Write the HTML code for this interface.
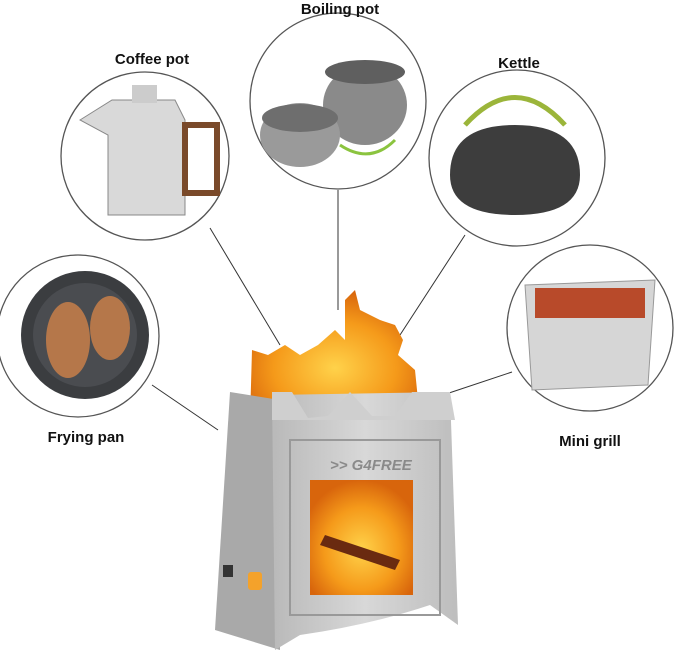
<!DOCTYPE html>
<html><head><style>
html,body{margin:0;padding:0;background:#fff;width:679px;height:668px;overflow:hidden}
svg{display:block}
text{font-family:"Liberation Sans",sans-serif;font-weight:bold;font-size:15px;fill:#111}
</style></head><body>
<svg width="679" height="668" viewBox="0 0 679 668">
<defs>
<radialGradient id="fire" cx="50%" cy="60%" r="60%"><stop offset="0" stop-color="#ffd24a"/><stop offset="0.6" stop-color="#f59a1a"/><stop offset="1" stop-color="#d8650c"/></radialGradient>
<linearGradient id="steel" x1="0" x2="1"><stop offset="0" stop-color="#b9b9b9"/><stop offset="0.5" stop-color="#d8d8d8"/><stop offset="1" stop-color="#bdbdbd"/></linearGradient>
</defs>
<g stroke="#333" stroke-width="1" fill="none">
<line x1="210" y1="228" x2="280" y2="345"/>
<line x1="338" y1="190" x2="338" y2="310"/>
<line x1="465" y1="235" x2="400" y2="335"/>
<line x1="152" y1="385" x2="218" y2="430"/>
<line x1="512" y1="372" x2="428" y2="400"/>
</g>
<g stroke="#555" stroke-width="1.3" fill="#fff">
<circle cx="145" cy="156" r="84"/>
<circle cx="338" cy="101" r="88"/>
<circle cx="517" cy="158" r="88"/>
<circle cx="78" cy="336" r="81"/>
<circle cx="590" cy="328" r="83"/>
</g>
<path d="M80 120 L112 100 L175 100 L185 120 L185 215 L108 215 L108 135 Z" fill="#d9d9d9" stroke="#888"/>
<rect x="185" y="125" width="32" height="68" fill="none" stroke="#7a4a2a" stroke-width="6"/>
<rect x="132" y="85" width="25" height="18" fill="#ccc"/>
<ellipse cx="365" cy="105" rx="42" ry="40" fill="#8a8a8a"/>
<ellipse cx="365" cy="72" rx="40" ry="12" fill="#5f5f5f"/>
<ellipse cx="300" cy="135" rx="40" ry="32" fill="#9a9a9a"/>
<ellipse cx="300" cy="118" rx="38" ry="14" fill="#6e6e6e"/>
<path d="M340 145 q30 20 55 -5" stroke="#8bc43f" stroke-width="3" fill="none"/>
<path d="M465 125 q50 -55 100 0" stroke="#9bb53a" stroke-width="5" fill="none"/>
<path d="M450 175 q0 -50 65 -50 q65 0 65 50 q0 40 -65 40 q-65 0 -65 -40z" fill="#3d3d3d"/>
<circle cx="85" cy="335" r="64" fill="#3b3d40"/>
<circle cx="85" cy="335" r="52" fill="#4a4c50"/>
<ellipse cx="68" cy="340" rx="22" ry="38" fill="#b5774a"/>
<ellipse cx="110" cy="328" rx="20" ry="32" fill="#b5774a"/>
<path d="M525 285 L655 280 L648 385 L532 390 Z" fill="#d6d6d6" stroke="#999"/>
<rect x="535" y="288" width="110" height="30" fill="#b84a2a"/>
<text x="340" y="14" text-anchor="middle">Boiling pot</text>
<text x="152" y="64" text-anchor="middle">Coffee pot</text>
<text x="519" y="68" text-anchor="middle">Kettle</text>
<text x="86" y="442" text-anchor="middle">Frying pan</text>
<text x="590" y="446" text-anchor="middle">Mini grill</text>
<path d="M250 420 L252 350 L268 355 L285 345 L300 355 L318 345 L335 330 L345 340 L345 300 L355 290 L360 310 L380 320 L395 325 L403 340 L398 355 L415 370 L420 420 Z" fill="url(#fire)"/>
<path d="M230 392 L280 400 L280 650 L215 630 Z" fill="#a9a9a9"/>
<path d="M272 395 L450 392 L458 625 L430 605 Q370 625 300 635 L275 650 Z" fill="url(#steel)"/>
<path d="M272 392 L292 392 L308 418 L328 416 L350 392 L372 416 L395 416 L412 392 L450 392 L455 420 L272 420 Z" fill="#cfcfcf"/>
<rect x="290" y="440" width="150" height="175" fill="none" stroke="#999" stroke-width="2"/>
<text x="330" y="470" style="font-size:15px;fill:#8a8a8a;font-style:italic">&gt;&gt; G4FREE</text>
<rect x="310" y="480" width="103" height="115" fill="url(#fire)"/>
<path d="M325 535 L400 560 L395 570 L320 545 Z" fill="#6a2a10"/>
<rect x="223" y="565" width="10" height="12" fill="#333"/>
<rect x="248" y="572" width="14" height="18" rx="3" fill="#f4a22b"/>
</svg>
</body></html>
